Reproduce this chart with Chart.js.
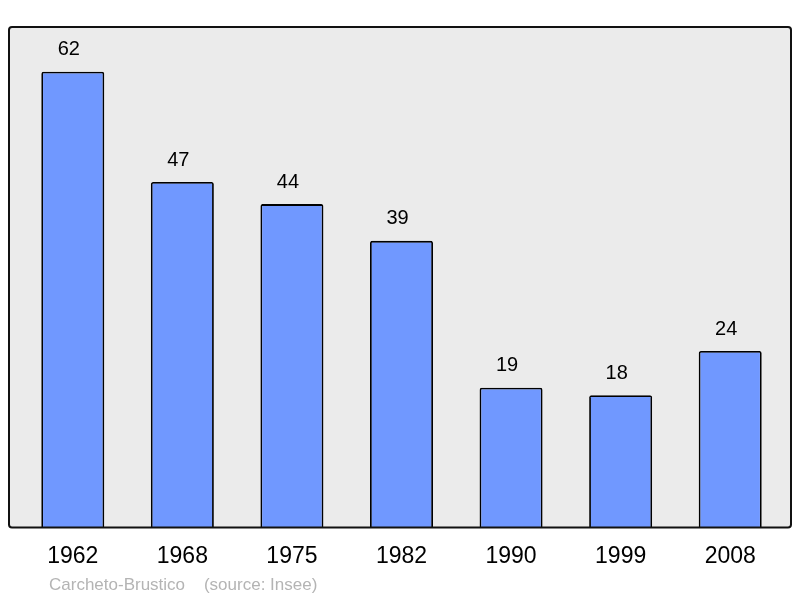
<!DOCTYPE html>
<html>
<head>
<meta charset="utf-8">
<script src="https://cdn.jsdelivr.net/npm/chart.js@4/dist/chart.umd.min.js"></script>
<style>
  html, body { margin: 0; padding: 0; background: #fff; }
  #wrap { position: relative; width: 800px; height: 598px; }
  #footer {
    position: absolute; left: 49px; top: 575px;
    font: 17px "Liberation Sans", Arial, sans-serif; color: #b4b4b4;
    white-space: pre;
  }
</style>
</head>
<body>
<div id="wrap">
  <canvas id="chart" width="800" height="598"></canvas>
  <div id="footer">Carcheto-Brustico    (source: Insee)</div>
</div>
<script>
const years = ["1962", "1968", "1975", "1982", "1990", "1999", "2008"];
const population = [62, 47, 44, 39, 19, 18, 24];

// grey framed box behind the bars
const frame = {
  id: "frame",
  beforeDatasetsDraw(chart) {
    const a = chart.chartArea;
    const ctx = chart.ctx;
    ctx.save();
    ctx.beginPath();
    ctx.roundRect(a.left - 9, a.top, a.right - a.left + 15, a.bottom - a.top, 3);
    ctx.fillStyle = "#ebebeb";
    ctx.fill();
    ctx.restore();
  },
  afterDatasetsDraw(chart) {
    const a = chart.chartArea;
    const ctx = chart.ctx;
    ctx.save();
    ctx.beginPath();
    ctx.roundRect(a.left - 9, a.top, a.right - a.left + 15, a.bottom - a.top, 3);
    ctx.lineWidth = 2;
    ctx.strokeStyle = "#111";
    ctx.stroke();
    ctx.restore();
  }
};

// value above each bar
const valueLabels = {
  id: "valueLabels",
  afterDatasetsDraw(chart) {
    const ctx = chart.ctx;
    const meta = chart.getDatasetMeta(0);
    ctx.save();
    ctx.font = '20px "Liberation Sans", Arial, sans-serif';
    ctx.fillStyle = "#000";
    ctx.textAlign = "center";
    ctx.textBaseline = "middle";
    meta.data.forEach((bar, i) => {
      ctx.fillText(String(population[i]), bar.x - 4, bar.y - 22);
    });
    ctx.restore();
  }
};

new Chart(document.getElementById("chart"), {
  type: "bar",
  data: {
    labels: years,
    datasets: [{
      data: population,
      backgroundColor: "#7098ff",
      borderColor: "#000",
      borderWidth: 1.8,
      borderRadius: 2,
      borderSkipped: "bottom",
      barPercentage: 0.575,
      categoryPercentage: 1
    }]
  },
  options: {
    responsive: false,
    animation: false,
    layout: { padding: { left: 18, right: 15, top: 27, bottom: 13 } },
    plugins: { legend: { display: false }, tooltip: { enabled: false } },
    scales: {
      x: {
        grid: { display: false, drawTicks: false },
        border: { display: false },
        ticks: {
          color: "#000",
          padding: 15,
          font: { family: '"Liberation Sans", Arial, sans-serif', size: 23 }
        }
      },
      y: { display: false, min: 0, max: 68.1 }
    }
  },
  plugins: [frame, valueLabels]
});
</script>
</body>
</html>
